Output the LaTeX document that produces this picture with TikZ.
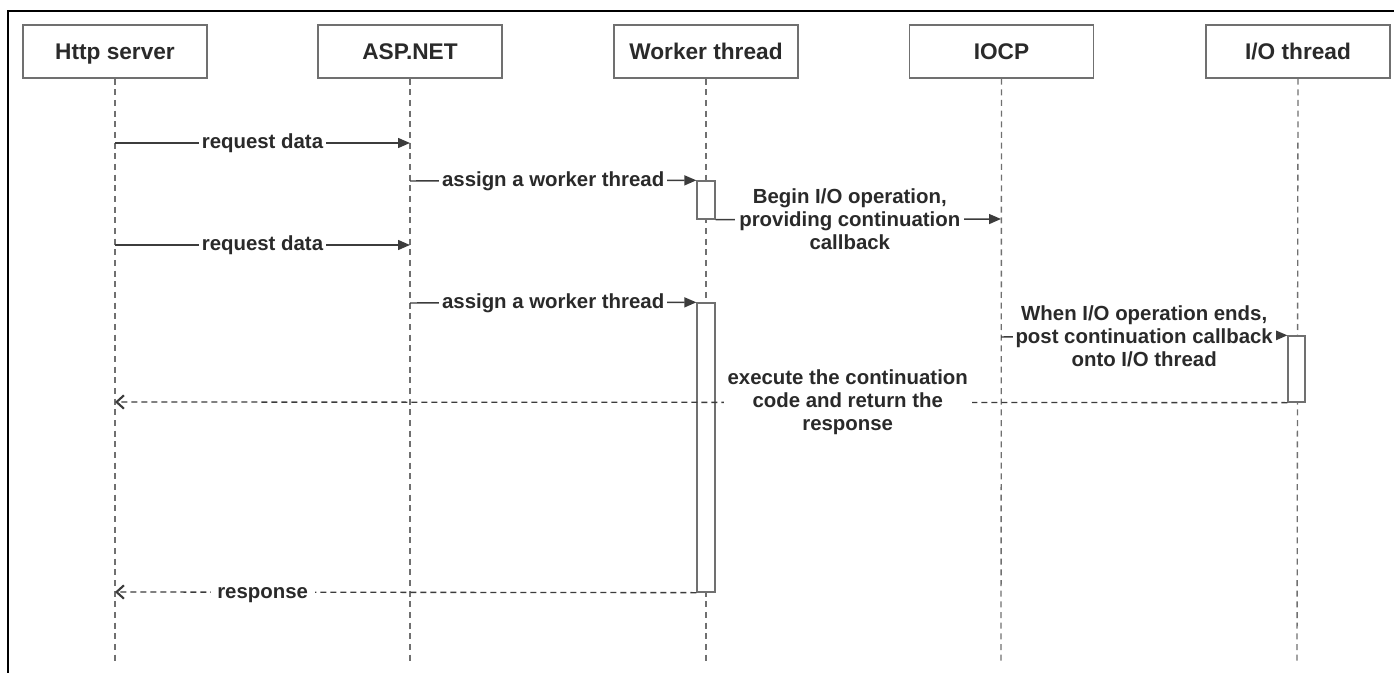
\documentclass[tikz,border=0pt]{standalone}
\usepackage{fontspec}
\setmainfont{Liberation Sans}
\usetikzlibrary{arrows.meta}
\definecolor{txt}{HTML}{2A2A2A}
\definecolor{ln}{HTML}{3C3C3C}
\definecolor{bx}{HTML}{707070}
\definecolor{lf}{HTML}{707070}
\begin{document}
\begin{tikzpicture}[x=0.75pt,y=-0.75pt,
 head/.style={draw=bx, line width=1pt, fill=white, minimum width=138pt, minimum height=39.75pt, inner sep=0pt, text height=12.2pt, text depth=0pt, font=\fontsize{17}{20}\selectfont\bfseries, text=txt},
 life/.style={draw=lf, line width=1pt, dash pattern=on 4.5pt off 3.5pt},
 actbox/.style={draw=bx, line width=1pt, fill=white, inner sep=0pt},
 msg/.style={draw=ln, line width=1.1pt, -{Triangle[length=9pt,width=7.5pt]}},
 ret/.style={draw=ln, line width=1pt, dash pattern=on 4.5pt off 3pt, -{Straight Barb[length=5.5pt,width=10pt,line width=1.6pt]}},
 lbl/.style={fill=white, text=txt, font=\fontsize{15.3}{17.3}\selectfont\bfseries, align=center, inner sep=3pt},
 one/.style={text height=9pt, text depth=0pt}
]
\useasboundingbox (0,0) rectangle (1394,673);
% frame
\coordinate (fb) at (8,673);
\coordinate (fc) at (8,11);
\coordinate (fr) at (1394,11);
\draw[black, line width=1.2pt] (fb) -- (fc) -- (fr);
% headers
\node[head] (hs) at (115,51.5) {Http server};
\node[head] (asp) at (410,51.5) {ASP.NET};
\node[head] (wt) at (706,51.5) {Worker thread};
\node[head] (iocp) at (1001.5,51.5) {IOCP};
\node[head] (iot) at (1298,51.5) {I/O thread};
% lifeline ends
\coordinate (e1) at (115,662);
\coordinate (e2) at (410,662);
\coordinate (e3) at (706,662);
\coordinate (e4) at (1001,662);
\coordinate (e5) at (1297,662);
\draw[life] (hs.south) -- (e1);
\draw[life] (asp.south) -- (e2);
\draw[life] (wt.south) -- (e3);
\draw[life] (iocp.south) -- (e4);
\draw[life] (iot.south) -- (e5);
% activation boxes
\node[actbox, minimum width=13.5pt, minimum height=28.5pt] (act1) at (706,200) {};
\node[actbox, minimum width=13.5pt, minimum height=216.75pt] (act2) at (706,447.5) {};
\node[actbox, minimum width=12.75pt, minimum height=49.5pt] (act3) at (1296.5,369) {};
% message points
\coordinate (a1) at (115,143);
\coordinate (b1) at (410,143);
\coordinate (b2) at (410,181);
\coordinate (d3) at (1001,219);
\coordinate (a4) at (115,245);
\coordinate (b4) at (410,245);
\coordinate (b5) at (410,303);
\coordinate (d6) at (1001,337);
\coordinate (a7) at (115,402);
\coordinate (a8) at (115,592);
% messages
\draw[msg] (a1) -- node[lbl, one, inner sep=2pt] {request data} (b1);
\draw[msg] (b2) -- node[lbl, one, inner sep=2pt] {assign a worker thread} (act1.north west);
\draw[msg] (act1.south east) -- node[lbl, pos=0.47] {Begin I/O operation,\\providing continuation\\callback} (d3);
\draw[msg] (a4) -- node[lbl, one, inner sep=2pt] {request data} (b4);
\draw[msg] (b5) -- node[lbl, one, inner sep=2pt] {assign a worker thread} (act2.north west);
\draw[msg] (d6) -- node[lbl, inner sep=2pt] {When I/O operation ends,\\post continuation callback\\onto I/O thread} (act3.north west);
\draw[ret] (act3.south west) -- node[lbl, pos=0.375] {execute the continuation\\code and return the\\response} (a7);
\draw[ret] (act2.south west) -- node[lbl, one, pos=0.746, inner sep=5pt] {response} (a8);
\end{tikzpicture}
\end{document}
